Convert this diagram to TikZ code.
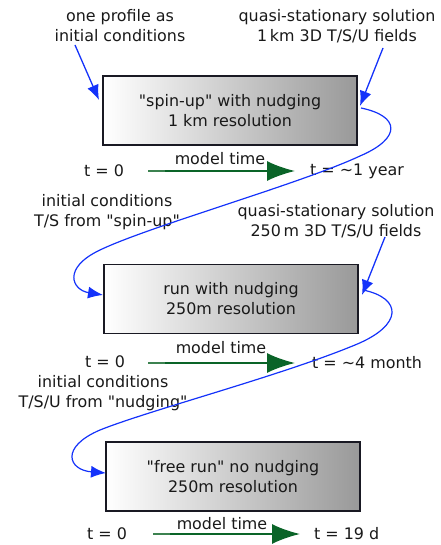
\documentclass[tikz,border=0pt]{standalone}
\usepackage{fontspec}
\setmainfont{DejaVu Sans}[Ligatures=TeXOff]
\usetikzlibrary{arrows.meta}
\definecolor{bluearr}{RGB}{20,50,250}
\definecolor{greenarr}{RGB}{10,100,40}
\definecolor{greenthin}{RGB}{60,130,80}
\definecolor{boxline}{RGB}{25,25,35}
\definecolor{txt}{RGB}{25,25,25}
\begin{document}
\begin{tikzpicture}[x=1pt,y=-1pt,
  every node/.style={font=\fontsize{15.9}{20}\selectfont, text=txt, inner sep=0pt},
  lbl/.style={align=center},
  runbox/.style={draw=boxline, line width=1.4pt, left color=white, right color=black!40, minimum width=254pt, minimum height=69pt, align=center},
  blue arrow/.style={draw=bluearr, line width=1.3pt, -{Latex[length=15pt,width=12pt]}},
  blue curve/.style={draw=bluearr, line width=1.2pt, -{Latex[length=15pt,width=12pt]}},
  time arrow/.style={draw=greenarr, line width=2pt, -{Latex[length=28pt,width=20pt]}},
  time thin/.style={draw=greenthin, line width=1.2pt}]
\useasboundingbox (0,0) rectangle (440,545);
% boxes
\node[runbox] (b1) at (230,110.5) {"spin-up" with nudging\\1 km resolution};
\node[runbox] (b2) at (231,299) {run with nudging\\250m resolution};
\node[runbox] (b3) at (233,476.5) {"free run" no nudging\\250m resolution};
% labels
\node[lbl] (l1) at (120,26) {one profile as\\initial conditions};
\node[lbl] (r1) at (337,26) {quasi-stationary solution\\1\,km 3D T/S/U fields};
\node[lbl] (l2) at (107,212) {initial conditions\\T/S from "spin-up"};
\node[lbl] (r2) at (336,221) {quasi-stationary solution\\250\,m 3D T/S/U fields};
\node[lbl] (l3) at (103,393) {initial conditions\\T/S/U from "nudging"};
% time rows
\node (t01) at (104,171) {t = 0};
\node (mt1) at (220,159) {model time};
\node[anchor=west] (te1) at (310,171) {t = \textasciitilde1 year};
\coordinate (s1) at (148,171); \coordinate (m1) at (165,171); \coordinate (e1) at (295,171);
\node (t02) at (105,362) {t = 0};
\node (mt2) at (221,348) {model time};
\node[anchor=west] (te2) at (312,363) {t = \textasciitilde4 month};
\coordinate (s2) at (148,363); \coordinate (m2) at (165,363); \coordinate (e2) at (295,363);
\node (t03) at (107,534) {t = 0};
\node (mt3) at (222,524) {model time};
\node[anchor=west] (te3) at (314,534) {t = 19 d};
\coordinate (s3) at (153,534); \coordinate (m3) at (170,534); \coordinate (e3) at (300,534);
\foreach \i in {1,2,3} {
  \draw[time thin] (s\i) -- (m\i);
  \draw[time arrow] (m\i) -- (e\i);
}
% blue arrows
\coordinate (a1s) at (75,45); \coordinate (a1e) at (99,100);
\draw[blue arrow] (a1s) -- (a1e);
\coordinate (a2s) at (383,48); \coordinate (a2e) at (360,106);
\draw[blue arrow] (a2s) -- (a2e);
\coordinate (a3s) at (385,237); \coordinate (a3e) at (362,295);
\draw[blue arrow] (a3s) -- (a3e);
% curves
\coordinate (c1s) at (361,108); \coordinate (c1e) at (103,295);
\draw[blue curve] (c1s) .. controls (400,116) and (402,138) .. (360,156)
  .. controls (300,184) and (150,226) .. (100,250)
  .. controls (62,268) and (72,290) .. (c1e);
\coordinate (c2s) at (363,290); \coordinate (c2e) at (106,473);
\draw[blue curve] (c2s) .. controls (402,298) and (404,325) .. (355,345)
  .. controls (280,376) and (150,410) .. (100,430)
  .. controls (60,447) and (68,470) .. (c2e);
\end{tikzpicture}
\end{document}
